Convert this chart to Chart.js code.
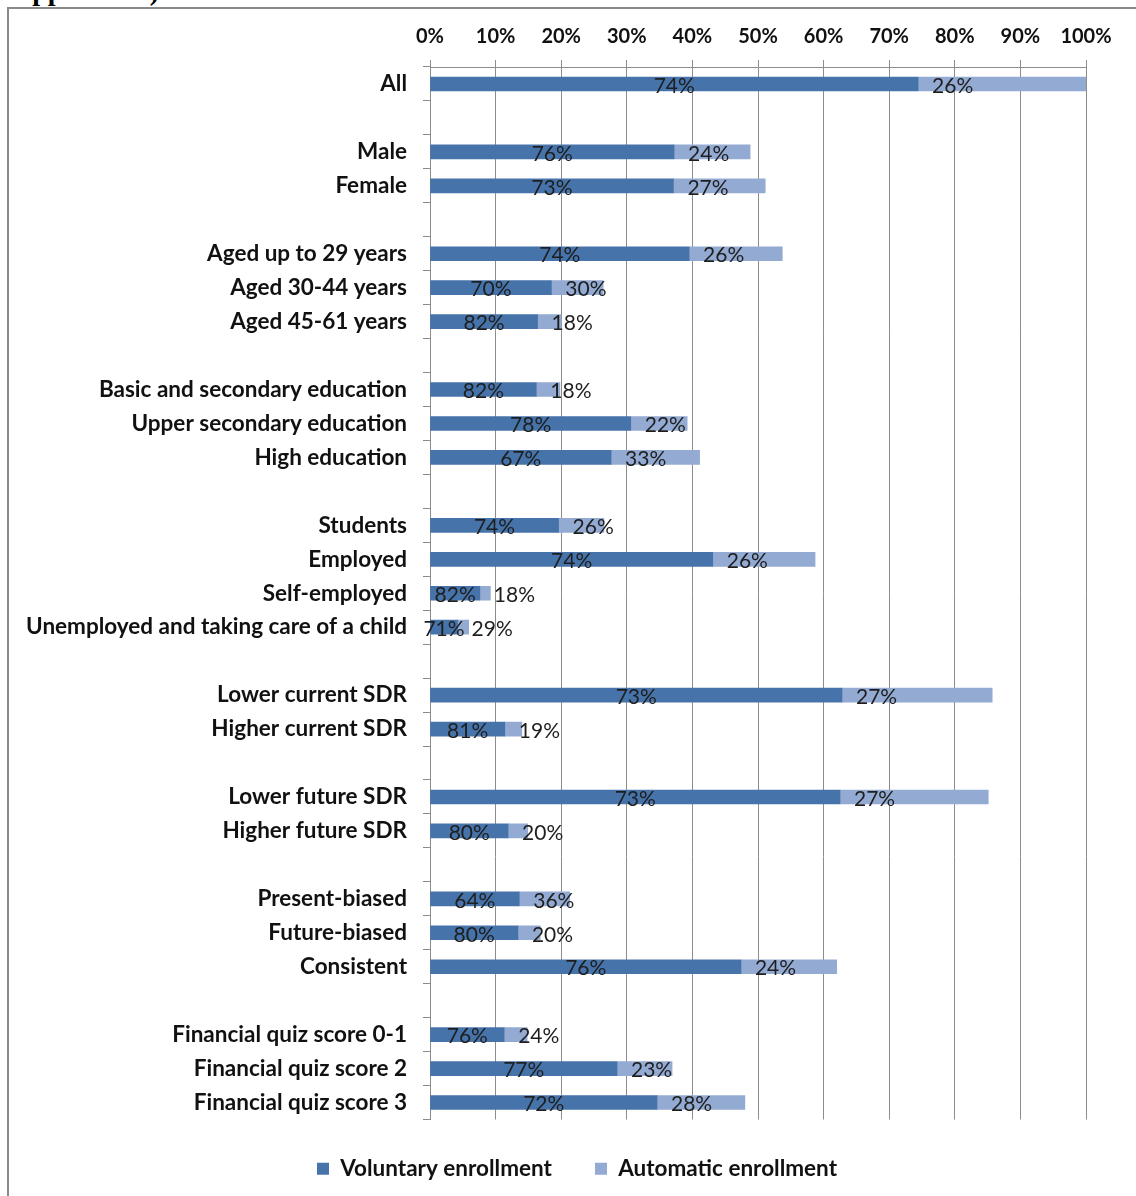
<!DOCTYPE html>
<html lang="en">
  <head>
    <meta charset="UTF-8" />
    <script src="https://cdn.jsdelivr.net/npm/chart.js"></script>
    <style>
      body {
        margin: 0;
        background: #fff;
      }
      #page {
        position: relative;
        width: 1136px;
        height: 1196px;
        overflow: hidden;
      }
      #cut {
        position: absolute;
        left: 0;
        top: 0;
        width: 300px;
        height: 7px;
        overflow: hidden;
      }
      #cut div {
        position: absolute;
        left: 12px;
        top: -23px;
        font: bold 28px/28px "Liberation Serif", serif;
        white-space: nowrap;
      }
      #frame {
        position: absolute;
        left: 7px;
        top: 7px;
        right: -10px;
        bottom: -10px;
        border-left: 2px solid #8a8a8a;
        border-top: 2px solid #8a8a8a;
      }
      #chartBox {
        position: absolute;
        left: 0;
        top: 0;
        width: 1136px;
        height: 1196px;
      }
    </style>
  </head>
  <body>
    <div id="page">
      <div id="cut"><div>Appendix 1)</div></div>
      <div id="frame"></div>
      <div id="chartBox"><canvas id="enrollChart"></canvas></div>
    </div>

    <script>
      // categories (empty strings are the gaps between groups)
      const categories = [
        "All", "",
        "Male", "Female", "",
        "Aged up to 29 years", "Aged 30-44 years", "Aged 45-61 years", "",
        "Basic and secondary education", "Upper secondary education", "High education", "",
        "Students", "Employed", "Self-employed", "Unemployed and taking care of a child", "",
        "Lower current SDR", "Higher current SDR", "",
        "Lower future SDR", "Higher future SDR", "",
        "Present-biased", "Future-biased", "Consistent", "",
        "Financial quiz score 0-1", "Financial quiz score 2", "Financial quiz score 3"
      ];

      // bar segment lengths (% of axis)
      const voluntary = [
        74.4, null,
        37.2, 37.1, null,
        39.5, 18.5, 16.4, null,
        16.2, 30.6, 27.6, null,
        19.6, 43.1, 7.6, 4.2, null,
        62.8, 11.4, null,
        62.5, 11.9, null,
        13.6, 13.4, 47.4, null,
        11.3, 28.5, 34.6
      ];
      const automatic = [
        25.6, null,
        11.6, 14.0, null,
        14.2, 7.9, 3.6, null,
        3.6, 8.6, 13.5, null,
        6.9, 15.6, 1.6, 1.7, null,
        22.9, 2.6, null,
        22.6, 3.0, null,
        7.7, 3.4, 14.6, null,
        3.5, 8.4, 13.4
      ];

      // share labels written on the bars
      const voluntaryShare = [
        "74%", "",
        "76%", "73%", "",
        "74%", "70%", "82%", "",
        "82%", "78%", "67%", "",
        "74%", "74%", "82%", "71%", "",
        "73%", "81%", "",
        "73%", "80%", "",
        "64%", "80%", "76%", "",
        "76%", "77%", "72%"
      ];
      const automaticShare = [
        "26%", "",
        "24%", "27%", "",
        "26%", "30%", "18%", "",
        "18%", "22%", "33%", "",
        "26%", "26%", "18%", "29%", "",
        "27%", "19%", "",
        "27%", "20%", "",
        "36%", "20%", "24%", "",
        "24%", "23%", "28%"
      ];

      const xTicks = [0, 10, 20, 30, 40, 50, 60, 70, 80, 90, 100];

      const fontFamily = "Lato, 'Open Sans', sans-serif";
      const gridColor = "#8c8c8c";

      // draws the share labels on each segment
      const shareLabels = {
        id: "shareLabels",
        afterLayout(chart) {
          // legend sits right of the plot centre in the original
          chart.legend.left += 34;
          chart.legend.right += 34;
          chart.legend.top -= 5;
          chart.legend.bottom -= 5;
        },
        afterDatasetsDraw(chart) {
          const ctx = chart.ctx;
          ctx.save();
          ctx.font = "21px " + fontFamily;
          ctx.fillStyle = "#1e1e1e";
          ctx.textBaseline = "middle";
          const volMeta = chart.getDatasetMeta(0);
          const autoMeta = chart.getDatasetMeta(1);
          volMeta.data.forEach((bar, i) => {
            if (!voluntaryShare[i]) return;
            ctx.textAlign = "center";
            ctx.fillText(voluntaryShare[i], (bar.base + bar.x) / 2, bar.y + 2);
          });
          autoMeta.data.forEach((bar, i) => {
            if (!automaticShare[i]) return;
            ctx.textAlign = "left";
            ctx.fillText(automaticShare[i], bar.base + 14, bar.y + 2);
          });
          ctx.restore();
        },
      };

      const ctx = document.getElementById("enrollChart").getContext("2d");
      const enrollChart = new Chart(ctx, {
        type: "bar",
        data: {
          labels: categories,
          datasets: [
            {
              label: "Voluntary enrollment",
              data: voluntary,
              backgroundColor: "#4673a9",
              barThickness: 14,
            },
            {
              label: "Automatic enrollment",
              data: automatic,
              backgroundColor: "#93aad2",
              barThickness: 14,
            },
          ],
        },
        options: {
          indexAxis: "y",
          responsive: true,
          maintainAspectRatio: false,
          animation: false,
          layout: { padding: { left: 0, right: 50, top: 0, bottom: 1 } },
          scales: {
            x: {
              position: "top",
              stacked: true,
              min: 0,
              max: 100,
              afterBuildTicks: (scale) => {
                scale.ticks = xTicks.map((v) => ({ value: v }));
              },
              afterFit: (scale) => {
                scale.height = 67;
              },
              grid: {
                color: gridColor,
                lineWidth: 1,
                tickLength: 7,
                tickColor: gridColor,
              },
              border: { display: true, color: gridColor },
              ticks: {
                padding: 11,
                color: "#111",
                font: { family: fontFamily, size: 20, weight: "bold" },
                callback: (v) => v + "%",
              },
            },
            y: {
              stacked: true,
              afterFit: (scale) => {
                scale.width = 430;
              },
              grid: {
                drawOnChartArea: false,
                tickLength: 7,
                tickColor: gridColor,
                offset: true,
              },
              border: { display: true, color: gridColor },
              ticks: {
                autoSkip: false,
                padding: 16,
                color: "#111",
                font: { family: fontFamily, size: 22.5, weight: "bold" },
              },
            },
          },
          plugins: {
            tooltip: { enabled: false },
            legend: {
              position: "bottom",
              labels: {
                boxWidth: 12,
                boxHeight: 12,
                padding: 43,
                color: "#111",
                font: { family: fontFamily, size: 22.5, weight: "bold" },
              },
            },
          },
        },
        plugins: [shareLabels],
      });
    </script>
  </body>
</html>
